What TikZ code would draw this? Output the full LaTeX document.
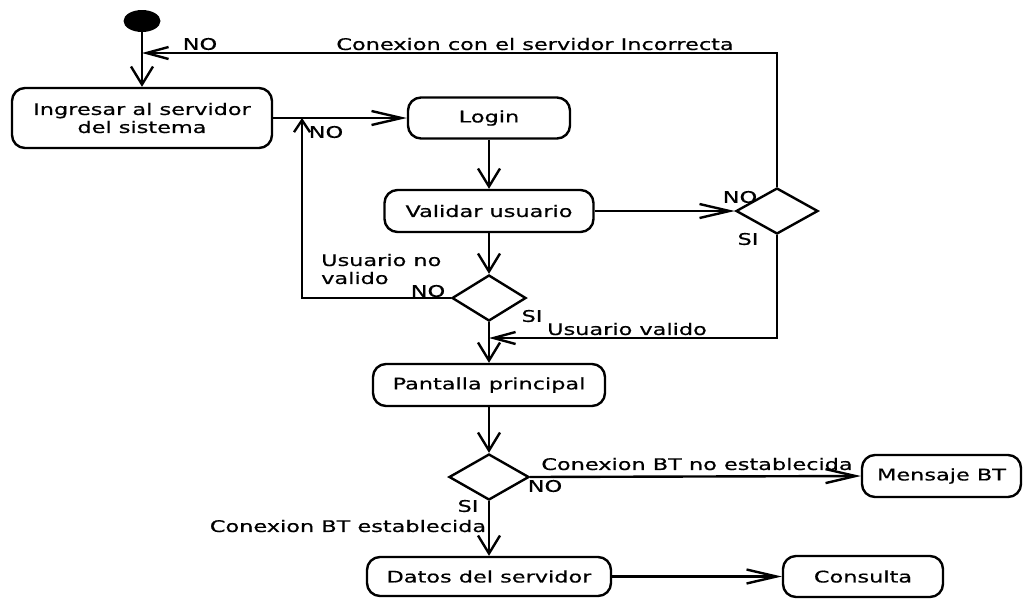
\documentclass[tikz,border=0pt]{standalone}
\usepackage{fontspec}
\newfontfamily\diagfont[FakeStretch=1.4,FakeBold=0.6]{DejaVu Sans}
\usetikzlibrary{arrows.meta,shapes.geometric}
\begin{document}
\begin{tikzpicture}[x=1pt,y=-1pt,
  every node/.style={font=\diagfont\fontsize{16}{18}\selectfont, text=black},
  act/.style={draw, line width=2.4pt, rounded corners=13pt, inner sep=0pt, align=center},
  dec/.style={draw, diamond, line width=2.4pt, inner sep=0pt},
  lbl/.style={inner sep=0pt},
  conn/.style={line width=2.4pt},
  varr/.style={conn, -{Straight Barb[length=18pt,width=22pt]}},
  harr/.style={conn, -{Straight Barb[length=30pt,width=14pt]}},
  sarr/.style={conn, -{Straight Barb[length=22pt,width=12pt]}},
  uarr/.style={conn, -{Straight Barb[length=12pt,width=16pt]}}
]
\useasboundingbox (0,0) rectangle (1024,598);

\node[ellipse, fill=black, minimum width=37pt, minimum height=22pt, inner sep=0pt] (start) at (142,21) {};
\node[act, minimum width=260pt, minimum height=60pt] (ingresar) at (142,118) {Ingresar al servidor\\del sistema};
\node[act, minimum width=162pt, minimum height=41pt] (login) at (489,118) {Login};
\node[act, minimum width=209pt, minimum height=42pt] (validar) at (489,211) {Validar usuario};
\node[dec, minimum width=74pt, minimum height=46pt] (d1) at (489,298) {};
\node[dec, minimum width=82pt, minimum height=46pt] (d2) at (777,211) {};
\node[act, minimum width=232pt, minimum height=42pt] (pantalla) at (489,385) {Pantalla principal};
\node[dec, minimum width=80pt, minimum height=46pt] (d3) at (489,477) {};
\node[act, minimum width=159pt, minimum height=42pt] (mensaje) at (941.5,476) {Mensaje BT};
\node[act, minimum width=244pt, minimum height=39pt] (datos) at (489,576.5) {Datos del servidor};
\node[act, minimum width=160pt, minimum height=41pt] (consulta) at (863,576.5) {Consulta};

\coordinate (c1) at (142,53);
\coordinate (c2) at (489,338);
\coordinate (c3) at (302,118);

\draw[varr] (start) -- (ingresar);
\draw[harr] (ingresar.east |- login) -- (login.west);
\draw[varr] (login) -- (validar);
\draw[varr] (validar) -- (d1);
\draw[harr] (validar.east) -- (d2.west);
\draw[sarr] (d2.north) |- (c1);
\draw[sarr] (d2.south) |- (c2);
\draw[uarr] (d1.west) -| (c3);
\draw[varr] (d1.south) -- (pantalla.north);
\draw[varr] (pantalla) -- (d3);
\draw[harr] (d3.east) -- (mensaje.west);
\draw[varr] (d3.south) -- (datos.north);
\draw[harr] (datos.east) -- (consulta.west);

\node[lbl] (l1) at (200,44) {NO};
\node[lbl] (l2) at (535,44) {Conexion con el servidor Incorrecta};
\node[lbl] (l3) at (326,132) {NO};
\node[lbl, anchor=west, align=left] (l4) at (321,269) {Usuario no\\valido};
\node[lbl] (l5) at (428,291) {NO};
\node[lbl] (l6) at (532,316) {SI};
\node[lbl] (l7) at (740,197) {NO};
\node[lbl] (l8) at (748,239) {SI};
\node[lbl] (l9) at (627,329) {Usuario valido};
\node[lbl] (l10) at (697,464) {Conexion BT no establecida};
\node[lbl] (l11) at (545,486) {NO};
\node[lbl] (l12) at (468,506) {SI};
\node[lbl] (l13) at (348,526) {Conexion BT establecida};
\end{tikzpicture}
\end{document}
